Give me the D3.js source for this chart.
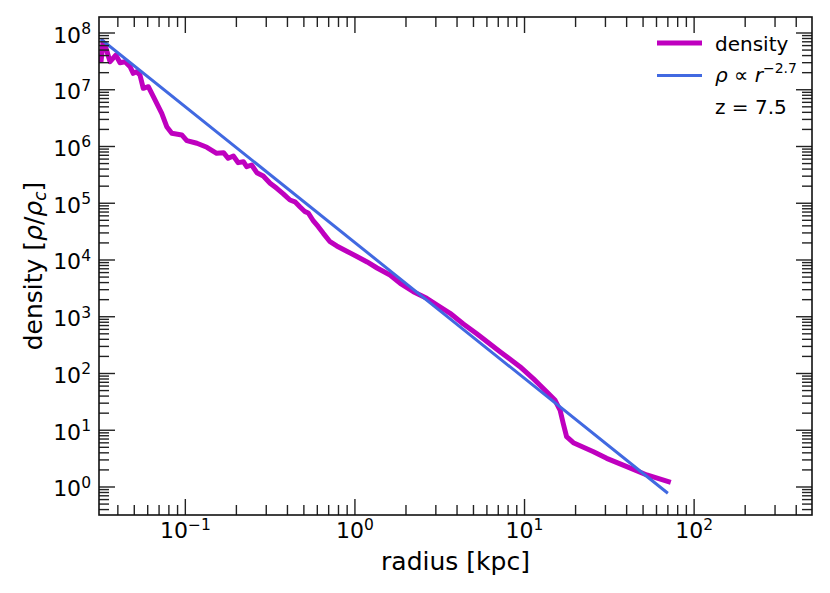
<!DOCTYPE html>
<html>
<head>
<meta charset="utf-8">
<script src="https://cdn.jsdelivr.net/npm/d3@7"></script>
<style>
  body { margin: 0; background: #fff; }
  svg text { font-family: "DejaVu Sans", sans-serif; fill: #000; }
</style>
</head>
<body>
<div id="chart"></div>
<script>
// radius [kpc] and density [rho/rho_c]
const radius = [0.0319, 0.0327, 0.0336, 0.0360, 0.0389, 0.0412, 0.0441, 0.0472, 0.0493, 0.0516,
  0.0540, 0.0565, 0.0605, 0.0648, 0.0726, 0.0777, 0.0832, 0.0953, 0.102, 0.117,
  0.134, 0.153, 0.168, 0.179, 0.192, 0.205, 0.220, 0.230, 0.246, 0.264,
  0.288, 0.316, 0.346, 0.378, 0.414, 0.443, 0.475, 0.508, 0.531, 0.569,
  0.608, 0.651, 0.713, 0.781, 0.895, 1.04, 1.18, 1.35, 1.61, 1.85,
  2.21, 2.65, 3.17, 3.64, 4.36, 5.23, 6.26, 7.17, 8.60, 9.40,
  11.3, 12.3, 13.5, 15.1, 16.2, 16.9, 17.7, 19.4, 25.5, 30.5,
  40.1, 52.6, 70.5];
const density = [3.34e7, 6.93e7, 6.15e7, 3.12e7, 4.09e7, 3.00e7, 3.12e7, 2.55e7, 1.95e7, 2.08e7,
  1.82e7, 1.06e7, 1.13e7, 7.55e6, 3.85e6, 2.23e6, 1.71e6, 1.60e6, 1.27e6, 1.14e6,
  9.68e5, 7.59e5, 7.78e5, 6.20e5, 6.80e5, 5.19e5, 5.40e5, 4.41e5, 4.72e5, 3.45e5,
  3.02e5, 2.25e5, 1.83e5, 1.46e5, 1.14e5, 1.06e5, 8.59e4, 7.10e4, 6.73e4, 4.87e4,
  3.86e4, 2.95e4, 2.10e4, 1.77e4, 1.43e4, 1.13e4, 9.23e3, 7.23e3, 5.44e3, 3.88e3,
  2.76e3, 2.11e3, 1.50e3, 1.15e3, 745, 500, 330, 242, 161, 132,
  80.3, 62.7, 47.7, 34.1, 22.7, 13.3, 7.69, 6.04, 4.19, 3.20,
  2.28, 1.63, 1.24];

// power law fit, end points
const fitRadius = [0.0322, 68.9];
const fitDensity = [7.54e7, 0.807];

const xDecades = [-1, 0, 1, 2];
const yDecades = [0, 1, 2, 3, 4, 5, 6, 7, 8];

const width = 830, height = 593;
const margin = { top: 17, right: 18, bottom: 78, left: 99 };

const svg = d3.select("#chart").append("svg")
  .attr("width", width)
  .attr("height", height);

const x = d3.scaleLog()
  .domain([0.03097, 495.5])
  .range([margin.left, width - margin.right]);

const y = d3.scaleLog()
  .domain([0.321, 1.914e8])
  .range([height - margin.bottom, margin.top]);

const x0 = margin.left, x1 = width - margin.right;
const y0 = height - margin.bottom, y1 = margin.top;

// clip for the curves
svg.append("clipPath").attr("id", "clip")
  .append("rect")
  .attr("x", x0).attr("y", y1)
  .attr("width", x1 - x0).attr("height", y0 - y1);

const plot = svg.append("g").attr("clip-path", "url(#clip)");

const line = d3.line()
  .x(d => x(d[0]))
  .y(d => y(d[1]));

plot.append("path")
  .datum(radius.map((r, i) => [r, density[i]]))
  .attr("fill", "none")
  .attr("stroke", "#bf00bf")
  .attr("stroke-width", 5)
  .attr("stroke-linejoin", "round")
  .attr("stroke-linecap", "square")
  .attr("d", line);

plot.append("path")
  .datum(fitRadius.map((r, i) => [r, fitDensity[i]]))
  .attr("fill", "none")
  .attr("stroke", "#4169e1")
  .attr("stroke-width", 3)
  .attr("stroke-linecap", "square")
  .attr("d", line);

// ticks, pointing inward on all four sides
const ticks = svg.append("g").attr("stroke", "#222").attr("stroke-width", 1.4);
const majLen = 16, minLen = 10;

function tickValues(scale) {
  const [a, b] = scale.domain();
  const out = [];
  for (let k = Math.floor(Math.log10(a)); k <= Math.ceil(Math.log10(b)); k++) {
    for (let m = 1; m <= 9; m++) {
      const v = m * Math.pow(10, k);
      if (v >= a && v <= b) out.push({ v, major: m === 1 });
    }
  }
  return out;
}

tickValues(x).forEach(t => {
  const px = x(t.v), len = t.major ? majLen : minLen;
  ticks.append("line").attr("x1", px).attr("x2", px).attr("y1", y0).attr("y2", y0 - len);
  ticks.append("line").attr("x1", px).attr("x2", px).attr("y1", y1).attr("y2", y1 + len);
});

tickValues(y).forEach(t => {
  const py = y(t.v), len = t.major ? majLen : minLen;
  ticks.append("line").attr("y1", py).attr("y2", py).attr("x1", x0).attr("x2", x0 + len);
  ticks.append("line").attr("y1", py).attr("y2", py).attr("x1", x1).attr("x2", x1 - len);
});

// frame
svg.append("rect")
  .attr("x", x0).attr("y", y1)
  .attr("width", x1 - x0).attr("height", y0 - y1)
  .attr("fill", "none")
  .attr("stroke", "#111")
  .attr("stroke-width", 1.6);

function powerLabel(sel, k) {
  sel.append("tspan").text("10");
  sel.append("tspan")
    .attr("font-size", 15.5)
    .attr("dy", -8.5)
    .text(k < 0 ? "\u2212" + (-k) : String(k));
}

// x tick labels
xDecades.forEach(k => {
  const t = svg.append("text")
    .attr("x", x(Math.pow(10, k)))
    .attr("y", 538)
    .attr("text-anchor", "middle")
    .attr("font-size", 22);
  powerLabel(t, k);
});

// y tick labels
yDecades.forEach(k => {
  const t = svg.append("text")
    .attr("x", 91)
    .attr("y", y(Math.pow(10, k)) + 9.5)
    .attr("text-anchor", "end")
    .attr("font-size", 22);
  powerLabel(t, k);
});

// axis labels
svg.append("text")
  .attr("x", (x0 + x1) / 2)
  .attr("y", 570)
  .attr("text-anchor", "middle")
  .attr("font-size", 25)
  .text("radius [kpc]");

const yl = svg.append("text")
  .attr("transform", `translate(42,${(y0 + y1) / 2}) rotate(-90)`)
  .attr("text-anchor", "middle")
  .attr("font-size", 25);
yl.append("tspan").text("density [");
yl.append("tspan").attr("font-style", "italic").text("\u03c1");
yl.append("tspan").text("/");
yl.append("tspan").attr("font-style", "italic").text("\u03c1");
yl.append("tspan").attr("font-style", "italic").attr("font-size", 17).attr("dy", 4).text("c");
yl.append("tspan").attr("dy", -4).text("]");

// legend
const leg = svg.append("g");
leg.append("line").attr("x1", 657).attr("x2", 702).attr("y1", 43).attr("y2", 43)
  .attr("stroke", "#bf00bf").attr("stroke-width", 5);
leg.append("line").attr("x1", 657).attr("x2", 702).attr("y1", 75.5).attr("y2", 75.5)
  .attr("stroke", "#4169e1").attr("stroke-width", 3);

leg.append("text").attr("x", 715).attr("y", 50.5).attr("font-size", 20).text("density");

const fitLabel = leg.append("text").attr("x", 715).attr("y", 82).attr("font-size", 20);
fitLabel.append("tspan").attr("font-style", "italic").text("\u03c1");
fitLabel.append("tspan").text(" \u221d ");
fitLabel.append("tspan").attr("font-style", "italic").text("r");
fitLabel.append("tspan").attr("font-size", 14).attr("dy", -9).text("\u22122.7");

leg.append("text").attr("x", 715).attr("y", 113.5).attr("font-size", 20).text("z = 7.5");
</script>
</body>
</html>
